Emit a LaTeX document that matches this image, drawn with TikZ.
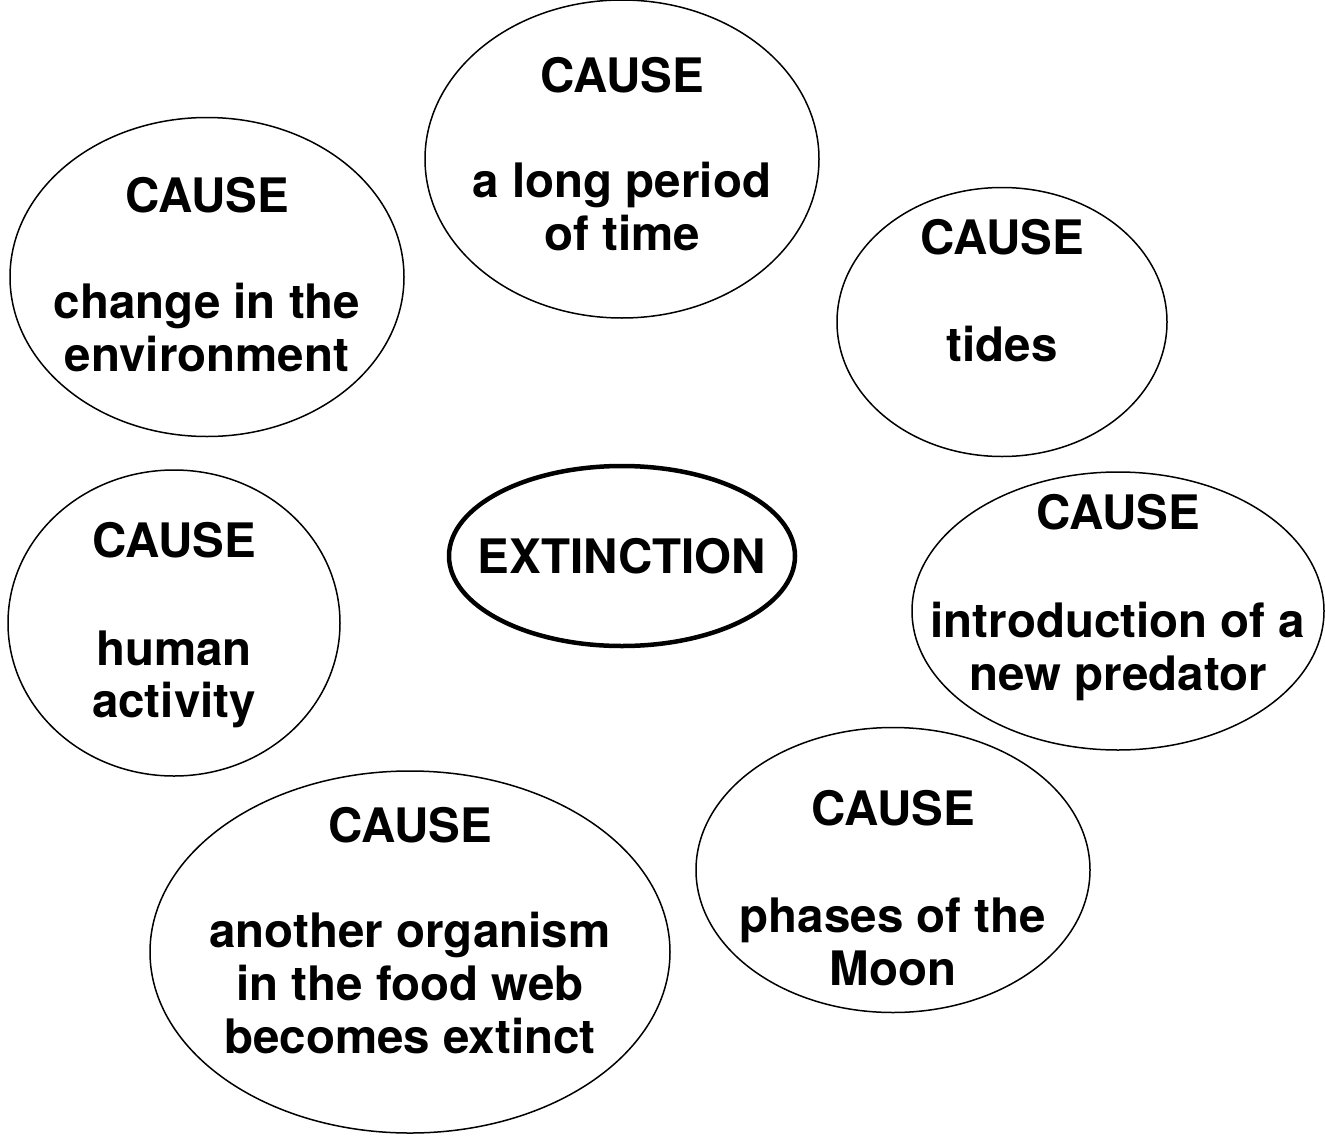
\documentclass[tikz,border=0pt]{standalone}
\usepackage{fontspec}
\setmainfont{TeX Gyre Heros}
\usetikzlibrary{shapes.geometric}
\begin{document}
\begin{tikzpicture}[x=1pt,y=-1pt,
  ell/.style={draw=black, ellipse, line width=1.5pt, inner sep=0pt},
  thickell/.style={draw=black, ellipse, line width=4.5pt, inner sep=0pt},
  txt/.style={anchor=base, font=\fontsize{47.5}{53}\selectfont\bfseries, inner sep=0pt}]
\useasboundingbox (0,0) rectangle (1325,1135);
% ellipses
\node[ell, minimum width=394pt, minimum height=318pt] (e1) at (622,159) {};
\node[ell, minimum width=394pt, minimum height=319pt] (e2) at (207,277) {};
\node[ell, minimum width=330pt, minimum height=269pt] (e3) at (1002,322) {};
\node[thickell, minimum width=346pt, minimum height=180pt] (e4) at (622,556) {};
\node[ell, minimum width=332pt, minimum height=306pt] (e5) at (174,623) {};
\node[ell, minimum width=412pt, minimum height=278pt] (e6) at (1118,611) {};
\node[ell, minimum width=394pt, minimum height=285pt] (e7) at (893,870) {};
\node[ell, minimum width=520pt, minimum height=362pt] (e8) at (410,952) {};
% texts
\node[txt] (t1a) at (622,92) {CAUSE};
\node[txt] (t1b) at (622,197) {a long period};
\node[txt] (t1c) at (622,250) {of time};
\node[txt] (t2a) at (207,212) {CAUSE};
\node[txt] (t2b) at (207,318) {change in the};
\node[txt] (t2c) at (207,371) {environment};
\node[txt] (t3a) at (1002,254) {CAUSE};
\node[txt] (t3b) at (1002,361) {tides};
\node[txt] (t4) at (622,573) {EXTINCTION};
\node[txt] (t5a) at (174,557) {CAUSE};
\node[txt] (t5b) at (174,665) {human};
\node[txt] (t5c) at (174,717) {activity};
\node[txt] (t6a) at (1118,529) {CAUSE};
\node[txt] (t6b) at (1118,637) {introduction of a};
\node[txt] (t6c) at (1118,690) {new predator};
\node[txt] (t7a) at (893,825) {CAUSE};
\node[txt] (t7b) at (893,932) {phases of the};
\node[txt] (t7c) at (893,985) {Moon};
\node[txt] (t8a) at (410,842) {CAUSE};
\node[txt] (t8b) at (410,947) {another organism};
\node[txt] (t8c) at (410,1000) {in the food web};
\node[txt] (t8d) at (410,1053) {becomes extinct};
\end{tikzpicture}
\end{document}
